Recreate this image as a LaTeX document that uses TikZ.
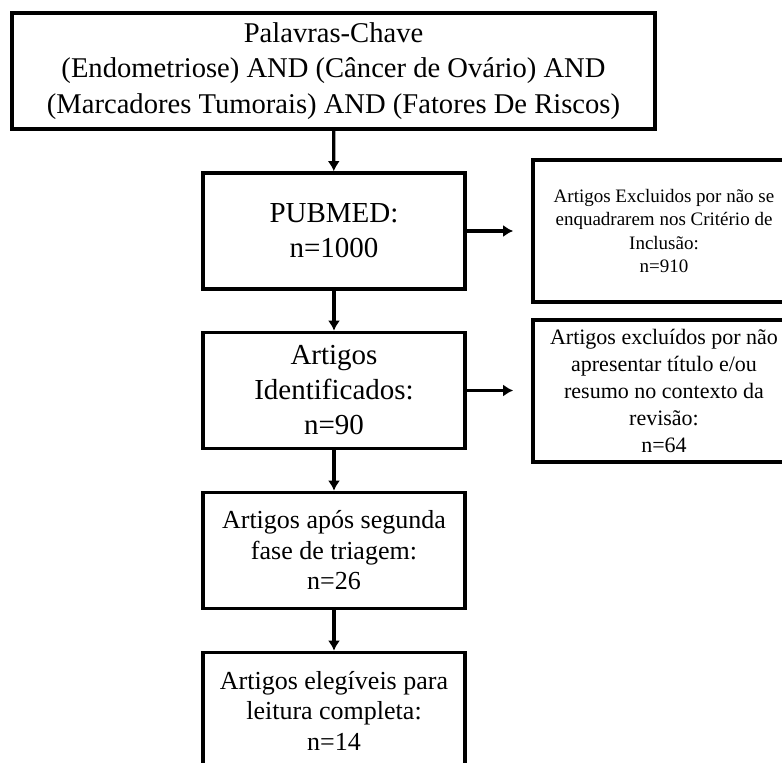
\documentclass[tikz,border=0pt]{standalone}
\usepackage{fontspec}
\setmainfont{Liberation Serif}
\usetikzlibrary{arrows.meta}

\begin{document}
\begin{tikzpicture}[x=0.5pt,y=-0.5pt,
  caixa/.style={draw,line width=1.8pt,align=center,inner sep=0pt,minimum width=131pt,minimum height=58pt},
  exclusao/.style={caixa,minimum height=71pt},
  seta/.style={line width=1.6pt,-{Latex[length=5pt,width=6pt]}}]
\useasboundingbox (0,0) rectangle (782,762);
\node[caixa,minimum width=321.5pt,font=\fontsize{14.3}{17.8}\selectfont] (chave) at (333.5,71) {Palavras-Chave\\(Endometriose) AND (Câncer de Ovário) AND\\(Marcadores Tumorais) AND (Fatores De Riscos)};
\node[caixa,font=\fontsize{14.5}{17.5}\selectfont] (pubmed) at (334,231) {PUBMED:\\n=1000};
\node[caixa,font=\fontsize{14.5}{17.5}\selectfont] (ident) at (334,390.5) {Artigos\\Identificados:\\n=90};
\node[caixa,font=\fontsize{13}{15.25}\selectfont] (triagem) at (334,550.5) {Artigos após segunda\\fase de triagem:\\n=26};
\node[caixa,font=\fontsize{13}{15.25}\selectfont] (elegiveis) at (334,710.5) {Artigos elegíveis para\\leitura completa:\\n=14};
\node[exclusao,font=\fontsize{9.5}{11.8}\selectfont] (excl1) at (664,231) {Artigos Excluidos por não se\\enquadrarem nos Critério de\\Inclusão:\\n=910};
\node[exclusao,font=\fontsize{11}{13.5}\selectfont] (excl2) at (664,391) {Artigos excluídos por não\\apresentar título e/ou\\resumo no contexto da\\revisão:\\n=64};
\draw[seta] (chave) -- (pubmed);
\draw[seta] (pubmed) -- (ident);
\draw[seta] (ident) -- (triagem);
\draw[seta] (triagem) -- (elegiveis);
\draw[seta,shorten >=9pt] (pubmed) -- (excl1);
\draw[seta,shorten >=9pt] (ident.east) -- (ident.east -| excl2.west);
\end{tikzpicture}
\end{document}
